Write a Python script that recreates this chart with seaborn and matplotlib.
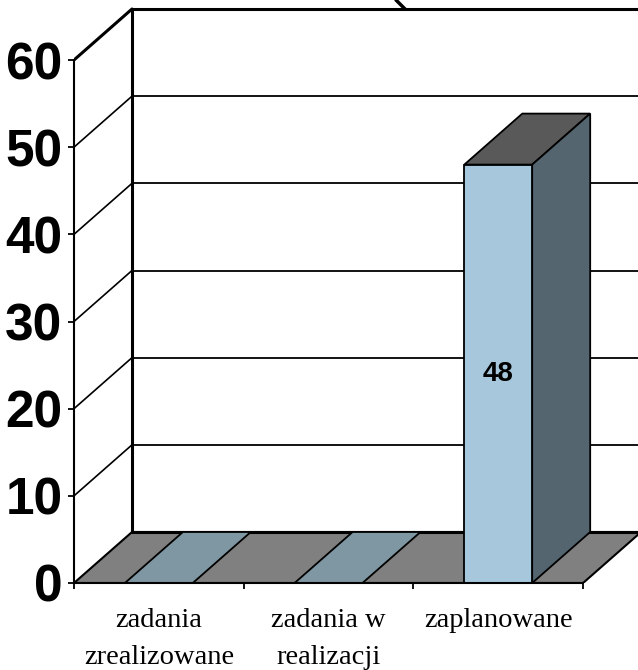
import matplotlib
matplotlib.use("Agg")
import matplotlib.pyplot as plt
import seaborn as sns
from matplotlib.patches import Polygon
from matplotlib.lines import Line2D

# data
categories = ["zadania\nzrealizowane", "zadania w\nrealizacji", "zaplanowane"]
values = [0, 0, 48]
yticks = [0, 10, 20, 30, 40, 50, 60]
bar_labels = ["", "", "48"]

# colours
front_col = "#A7C8DC"
side_col = "#546570"
top_col = "#595959"
flat_col = "#7F97A3"
floor_col = "#808080"

sns.set_style("white")
plt.rcParams["font.family"] = ["Liberation Sans", "DejaVu Sans"]
plt.rcParams["text.color"] = "black"
plt.rcParams["xtick.color"] = "black"
plt.rcParams["ytick.color"] = "black"

W, H = 638, 670
x0px, y0px = 74, 583
catw = 169.7
ppu = 523 / 60
dx = 58 / catw      # depth offset in category units
dy = 51 / ppu       # depth offset in value units

fig = plt.figure(figsize=(W / 100, H / 100), dpi=100)
fig.patch.set_facecolor("white")
ax = fig.add_axes([x0px / W, (H - y0px) / H, (W - x0px) / W, y0px / H])

bw = 0.4
sns.barplot(x=categories, y=values, width=bw, color=front_col, saturation=1,
            edgecolor="black", linewidth=1.3, ax=ax, zorder=3)

xmax = -0.5 + (W - x0px) / catw
ax.set_xlim(-0.5, xmax)
ax.set_ylim(0, y0px / ppu)

n = len(categories)
top = yticks[-1]

# floor
floor = Polygon([(-0.5, 0), (n - 0.5, 0), (n - 0.5 + dx, dy), (-0.5 + dx, dy)],
                closed=True, facecolor=floor_col, edgecolor="black", lw=1.5, zorder=1)
ax.add_patch(floor)
ax.plot([-0.5 + dx, n - 0.5 + dx], [dy, dy], color="black", lw=2.2, zorder=1.2)

# back wall grid + left wall
for v in yticks[1:]:
    lw = 2.2 if v == top else 1.3
    ax.plot([-0.5 + dx, xmax], [v + dy, v + dy], color="black", lw=lw, zorder=0.5, clip_on=False)
    ax.plot([-0.5, -0.5 + dx], [v, v + dy], color="black", lw=lw if v == top else 1.2, zorder=0.5)
ax.plot([-0.5 + dx, -0.5 + dx], [dy, top + dy], color="black", lw=2.2, zorder=0.6)

# 3d faces of bars
for i, v in enumerate(values):
    l, r = i - bw / 2, i + bw / 2
    tcol = top_col if v > 0 else flat_col
    ax.add_patch(Polygon([(l, v), (r, v), (r + dx, v + dy), (l + dx, v + dy)], closed=True,
                         facecolor=tcol, edgecolor="black", lw=1.3, zorder=2))
    if v > 0:
        ax.add_patch(Polygon([(r, 0), (r + dx, dy), (r + dx, v + dy), (r, v)], closed=True,
                             facecolor=side_col, edgecolor="black", lw=1.3, zorder=2.5))

ax.bar_label(ax.containers[0], labels=bar_labels, label_type="center",
             fontsize=20, fontweight="bold", color="black")

# axes
sns.despine(ax=ax, top=True, right=True)
ax.spines["left"].set_bounds(0, top)
ax.spines["bottom"].set_bounds(-0.5, n - 0.5)
for s in ["left", "bottom"]:
    ax.spines[s].set_linewidth(1.5)
    ax.spines[s].set_color("black")
    ax.spines[s].set_zorder(4)

ax.set_yticks(yticks)
ax.set_yticklabels([str(t) for t in yticks], fontsize=37, fontweight="bold", color="black")
ax.tick_params(axis="y", direction="out", length=4.3, width=1.3, pad=4, left=True)

ax.set_xticks([k - 0.5 for k in range(n + 1)])
ax.set_xticklabels([""] * (n + 1))
ax.set_xticks(range(n), minor=True)
ax.set_xticklabels(categories, minor=True, fontsize=20.5, family="Liberation Serif",
                   linespacing=1.62, color="black")
ax.tick_params(axis="x", which="major", direction="out", length=4.3, width=1.3, bottom=True)
ax.tick_params(axis="x", which="minor", length=0, pad=18)
ax.set_xlabel("")
ax.set_ylabel("")
ax.grid(False)

# fragment of a curve at the top edge
fig.add_artist(Line2D([396 / W, 405 / W], [1, 1 - 9 / H], color="black", lw=2.5))

fig.savefig("out.png", dpi=100, facecolor="white")
